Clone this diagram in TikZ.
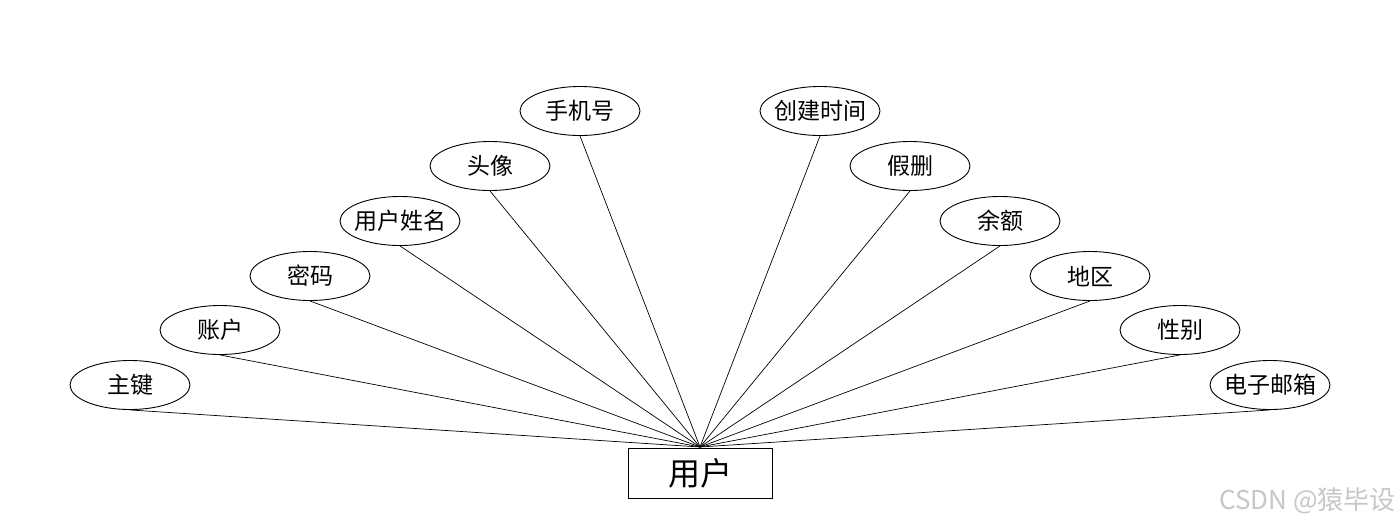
\documentclass[tikz,border=0pt]{standalone}
\usepackage{fontspec}
\newfontfamily\cjk{Noto Sans CJK SC}
\usetikzlibrary{shapes.geometric}
\tikzset{
  attr/.style={ellipse,draw,line width=0.9pt,minimum width=120pt,minimum height=49pt,inner xsep=-6pt,inner ysep=0pt,font=\cjk\fontsize{23}{25}\selectfont},
  ent/.style={rectangle,draw,line width=0.9pt,minimum width=144pt,minimum height=50pt,inner sep=0pt,font=\cjk\fontsize{32}{36}\selectfont},
  link/.style={line width=0.7pt}
}
\begin{document}
\begin{tikzpicture}[x=1pt,y=-1pt]
\useasboundingbox (0,0) rectangle (1400,528);
\node[ent] (u) at (700,473) {用户};
\coordinate (top) at (700,447);
\node[attr] (a1) at (130,385) {主键};
\node[attr] (a2) at (220,330) {账户};
\node[attr] (a3) at (310,276) {密码};
\node[attr] (a4) at (400,221) {用户姓名};
\node[attr] (a5) at (490,166) {头像};
\node[attr] (a6) at (580,111) {手机号};
\node[attr] (a7) at (820,111) {创建时间};
\node[attr] (a8) at (910,166) {假删};
\node[attr] (a9) at (1000,221) {余额};
\node[attr] (a10) at (1090,276) {地区};
\node[attr] (a11) at (1180,330) {性别};
\node[attr] (a12) at (1270,385) {电子邮箱};
\foreach \n in {a1,a2,a3,a4,a5,a6,a7,a8,a9,a10,a11,a12}
  \draw[link] (\n.south) -- (top);
\node[font=\cjk\fontsize{26}{28}\selectfont,text=black!22,anchor=east,inner sep=0pt] (wm) at (1396,501) {CSDN @猿毕设};
\end{tikzpicture}
\end{document}
